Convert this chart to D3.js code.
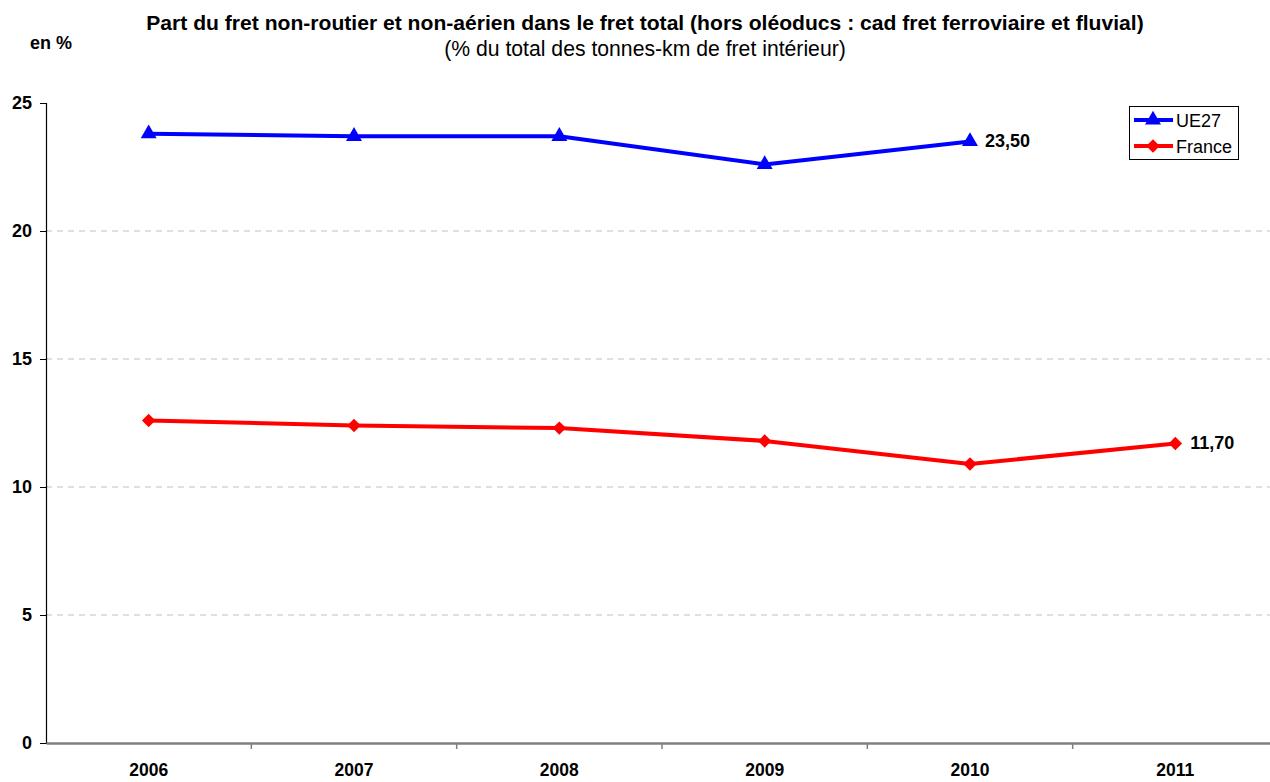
<!DOCTYPE html>
<html><head><meta charset="utf-8">
<script src="https://cdn.jsdelivr.net/npm/d3@7"></script>
<style>
body{margin:0;background:#fff;}
text{font-family:"Liberation Sans",Arial,sans-serif;}
</style></head>
<body><svg id="c" width="1270" height="782"></svg>
<script>
const years = ["2006","2007","2008","2009","2010","2011"];
const ue27 = [23.8, 23.7, 23.7, 22.6, 23.5, null];
const france = [12.6, 12.4, 12.3, 11.8, 10.9, 11.7];
const yTicks = [0,5,10,15,20,25];
const seriesNames = ["UE27","France"];
const seriesColors = ["#0000ff","#ff0000"];

const svg = d3.select("#c");
const pL = 46, pR = 1278, pT = 103, pB = 743;
const x = d3.scaleBand().domain(years).range([pL,pR]);
const y = d3.scaleLinear().domain([0,25]).range([pB,pT]);

// gridlines
svg.append("g").selectAll("line").data(yTicks.filter(t=>t>0&&t<25)).join("line")
 .attr("x1",pL).attr("x2",1270).attr("y1",d=>y(d)).attr("y2",d=>y(d))
 .attr("stroke","#c0c0c0").attr("stroke-width",1).attr("stroke-dasharray","6,5");

// y axis
const ya = svg.append("g").attr("transform",`translate(${pL},0)`)
 .call(d3.axisLeft(y).tickValues(yTicks).tickSize(6).tickPadding(8));
ya.select(".domain").attr("stroke","#000").attr("stroke-width",1.2);
ya.selectAll(".tick line").attr("stroke","#000");
ya.selectAll("text").attr("font-size",18).attr("font-weight","bold").attr("fill","#000")
 .attr("font-family","Liberation Sans, Arial, sans-serif");

// x axis
const xa = svg.append("g").attr("transform",`translate(0,${pB})`)
 .call(d3.axisBottom(x).tickSize(0).tickPadding(21));
xa.select(".domain").attr("stroke","#808080").attr("stroke-width",2.5);
xa.selectAll("text").attr("font-size",17.5).attr("font-weight","bold").attr("fill","#000")
 .attr("font-family","Liberation Sans, Arial, sans-serif");
svg.append("g").selectAll("line").data(years.slice(1)).join("line")
 .attr("x1",d=>x(d)).attr("x2",d=>x(d)).attr("y1",pB).attr("y2",pB+6)
 .attr("stroke","#808080").attr("stroke-width",1.5);

const cx = d=>x(d)+x.bandwidth()/2;
const line = d3.line().defined(d=>d.v!=null).x(d=>cx(d.yr)).y(d=>y(d.v));
const tri = d3.symbol().type(d3.symbolTriangle).size(110);
const sq = d3.symbol().type(d3.symbolSquare).size(90);
const mark = (i, tx, ty) => i===0 ? `translate(${tx},${ty})` : `translate(${tx},${ty}) rotate(45)`;

[ue27, france].forEach((vals,i)=>{
  const data = years.map((yr,j)=>({yr, v: vals[j]}));
  svg.append("path").datum(data).attr("d",line).attr("fill","none")
    .attr("stroke",seriesColors[i]).attr("stroke-width",4).attr("stroke-linejoin","round");
  svg.append("g").selectAll("path").data(data.filter(d=>d.v!=null)).join("path")
    .attr("transform",d=>mark(i, cx(d.yr), y(d.v)))
    .attr("d", i===0?tri:sq).attr("fill",seriesColors[i]);
  const last = data.filter(d=>d.v!=null).slice(-1)[0];
  svg.append("text").attr("x",cx(last.yr)+15).attr("y",y(last.v)+6)
    .attr("font-size",18).attr("font-weight","bold")
    .text(last.v.toFixed(2).replace(".",","));
});

// title
svg.append("text").attr("x",645).attr("y",30).attr("text-anchor","middle")
 .attr("font-size",21.1).attr("font-weight","bold")
 .text("Part du fret non-routier et non-aérien dans le fret total (hors oléoducs : cad fret ferroviaire et fluvial)");
svg.append("text").attr("x",645).attr("y",56).attr("text-anchor","middle")
 .attr("font-size",21.2)
 .text("(% du total des tonnes-km de fret intérieur)");
svg.append("text").attr("x",51).attr("y",49).attr("text-anchor","middle")
 .attr("font-size",18).attr("font-weight","bold").text("en %");

// legend
const lg = svg.append("g");
lg.append("rect").attr("x",1129.5).attr("y",106.5).attr("width",109).attr("height",53)
 .attr("fill","#fff").attr("stroke","#000").attr("stroke-width",1);
seriesNames.forEach((n,i)=>{
  const yy = 120 + i*26;
  lg.append("line").attr("x1",1134).attr("x2",1173).attr("y1",yy).attr("y2",yy)
   .attr("stroke",seriesColors[i]).attr("stroke-width",4);
  lg.append("path").attr("transform",mark(i,1153,yy)).attr("d", i===0?tri:sq)
   .attr("fill",seriesColors[i]);
  lg.append("text").attr("x",1176).attr("y",yy+7).attr("font-size",18).text(n);
});
</script></body></html>
